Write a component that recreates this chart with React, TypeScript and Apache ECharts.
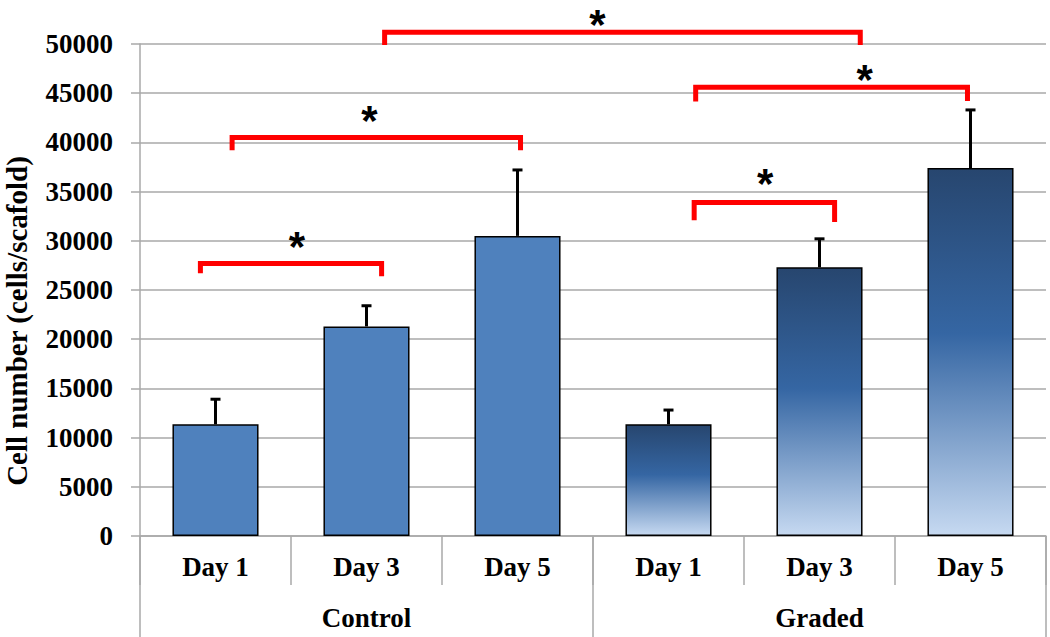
import React, { useEffect, useRef } from 'react';
import * as echarts from 'echarts';

const dayLabels = ['Day 1', 'Day 3', 'Day 5', 'Day 1', 'Day 3', 'Day 5'];
const groupLabels = ['Control', 'Graded'];
const controlMeans = [11350, 21300, 30500];
const controlErrors = [2550, 2100, 6700];
const gradedMeans = [11350, 27300, 37400];
const gradedErrors = [1450, 2900, 5900];
const yMin = 0;
const yMax = 50000;
const yInterval = 5000;
const yTitle = 'Cell number (cells/scafold)';

// significance brackets: [left pos, right pos, bar value, left tick end, right tick end, star pos, star value]
// positions are in category units (0 = first bar centre)
const brackets = [
  [-0.1, 1.1, 27700, 26700, 26400, 0.54, 30000],
  [0.11, 2.02, 40500, 39200, 39200, 1.02, 42800],
  [1.12, 4.27, 51200, 49900, 49900, 2.53, 52600],
  [3.18, 4.98, 45600, 44150, 44200, 4.3, 47000],
  [3.17, 4.1, 33900, 32100, 31900, 3.64, 36400],
];

const SERIF = '"Liberation Serif", "Times New Roman", serif';
const GRID = '#a9a9a9';
const STAR_SIZE = 42;

export default function App() {
  const ref = useRef<HTMLDivElement>(null);
  useEffect(() => {
    if (!ref.current) return;
    const chart = echarts.init(ref.current, undefined, { renderer: 'svg' });
    const means = [...controlMeans, ...gradedMeans];
    const errs = [...controlErrors, ...gradedErrors];
    const gradedFill = new echarts.graphic.LinearGradient(0, 0, 0, 1, [
      { offset: 0, color: '#27466f' },
      { offset: 0.45, color: '#3566a3' },
      { offset: 1, color: '#c6d9f1' },
    ]);
    const barData = means.map((v, i) => ({
      value: v,
      itemStyle: {
        color: i < 3 ? '#4f81bd' : gradedFill,
        borderColor: '#000',
        borderWidth: 1.5,
      },
    }));
    const labelStyle = {
      fontFamily: SERIF,
      fontWeight: 'bold' as const,
      fontSize: 27,
      color: '#000',
    };
    const option: any = {
      animation: false,
      grid: { left: 140, right: 4, top: 44, bottom: 101 },
      xAxis: [
        {
          type: 'category',
          data: dayLabels,
          position: 'bottom',
          axisLine: { show: true, onZero: false, lineStyle: { color: GRID, width: 1.5 } },
          axisTick: { show: true, interval: 0, length: 49, lineStyle: { color: GRID, width: 1.5 } },
          axisLabel: { ...labelStyle, interval: 0, margin: 17 },
          splitLine: { show: false },
        },
        {
          type: 'category',
          data: groupLabels,
          position: 'bottom',
          axisLine: { show: false, onZero: false },
          axisTick: { show: true, interval: 0, length: 101, lineStyle: { color: GRID, width: 1.5 } },
          axisLabel: { ...labelStyle, interval: 0, margin: 68 },
          splitLine: { show: false },
        },
      ],
      yAxis: {
        type: 'value',
        min: yMin,
        max: yMax,
        interval: yInterval,
        axisLine: { show: true, lineStyle: { color: GRID, width: 1.5 } },
        axisTick: { show: true, length: 9, lineStyle: { color: GRID, width: 1.5 } },
        axisLabel: { ...labelStyle, margin: 27, formatter: (v: number) => String(v) },
        splitLine: { show: true, lineStyle: { color: GRID, width: 1.5 } },
      },
      graphic: [
        {
          type: 'text',
          x: 17,
          y: 321,
          rotation: Math.PI / 2,
          style: {
            text: yTitle,
            font: `bold 29px ${SERIF}`,
            fill: '#000',
            textAlign: 'center',
            textVerticalAlign: 'middle',
          },
        },
      ],
      series: [
        {
          type: 'bar',
          xAxisIndex: 0,
          data: barData,
          barWidth: '57%',
        },
        {
          type: 'custom',
          xAxisIndex: 0,
          data: means.map((v, i) => [i, v, errs[i]]),
          encode: { x: 0, y: 1 },
          z: 3,
          renderItem: (params: any, api: any) => {
            const i = api.value(0);
            const v = api.value(1);
            const e = api.value(2);
            const base = api.coord([i, v]);
            const top = api.coord([i, v + e]);
            return {
              type: 'group',
              children: [
                {
                  type: 'line',
                  shape: { x1: base[0], y1: base[1], x2: top[0], y2: top[1] },
                  style: { stroke: '#000', lineWidth: 3 },
                },
                {
                  type: 'line',
                  shape: { x1: top[0] - 5, y1: top[1], x2: top[0] + 5, y2: top[1] },
                  style: { stroke: '#000', lineWidth: 3 },
                },
              ],
            };
          },
        },
        {
          type: 'custom',
          xAxisIndex: 0,
          data: brackets.map((b, i) => [i]),
          clip: false,
          z: 4,
          renderItem: (params: any, api: any) => {
            const b = brackets[params.dataIndex];
            const w = api.size([1, 0])[0];
            const px = (u: number, v: number) => {
              const k = Math.round(u);
              const p = api.coord([k, v]);
              return [p[0] + (u - k) * w, p[1]];
            };
            const [l, r, y, lt, rt, su, sv] = b;
            const s = px(su, sv);
            return {
              type: 'group',
              children: [
                {
                  type: 'polyline',
                  shape: { points: [px(l, lt), px(l, y), px(r, y), px(r, rt)] },
                  style: { stroke: '#ff0000', lineWidth: 5, fill: null, lineJoin: 'miter' },
                },
                {
                  type: 'text',
                  style: {
                    text: '*',
                    x: s[0],
                    y: s[1],
                    fill: '#000',
                    font: `bold ${STAR_SIZE}px "Liberation Sans", Arial, sans-serif`,
                    textAlign: 'center',
                    textVerticalAlign: 'top',
                  },
                  y: -Math.round(STAR_SIZE * 0.354),
                },
              ],
            };
          },
        },
      ],
    };
    chart.setOption(option);
    return () => chart.dispose();
  }, []);
  return (
    <div
      ref={ref}
      style={{ position: 'fixed', left: 0, top: 0, width: 1050, height: 637, background: '#fff' }}
    />
  );
}
